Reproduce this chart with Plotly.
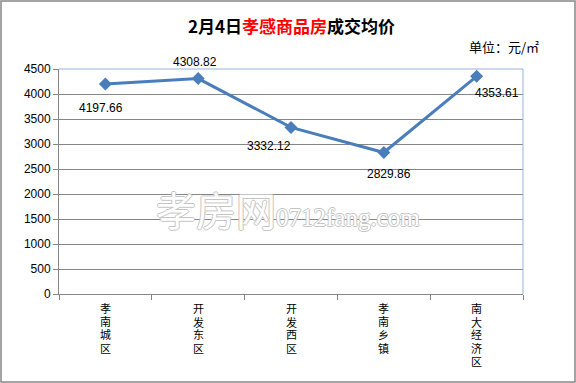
import plotly.graph_objects as go

categories = ["孝南城区", "开发东区", "开发西区", "孝南乡镇", "南大经济区"]
prices = [4197.66, 4308.82, 3332.12, 2829.86, 4353.61]
# label offsets (px) relative to each point
label_dx = [-4, -3, -22, 5, 20]
label_dy = [-24, 17, -19, -21, -17]
y_ticks = [0, 500, 1000, 1500, 2000, 2500, 3000, 3500, 4000, 4500]

W, H = 576, 383
L, R, T, B = 59, 53, 69, 89
pw, ph = W - L - R, H - T - B

fig = go.Figure()
fig.add_trace(go.Scatter(
    x=categories, y=prices, mode="lines+markers",
    line=dict(color="#4a7ebb", width=3),
    marker=dict(symbol="diamond", size=10, color="#4a7ebb"),
    cliponaxis=False, showlegend=False, hoverinfo="skip",
))

annotations = []
for c, v, dx, dy in zip(categories, prices, label_dx, label_dy):
    annotations.append(dict(x=c, y=v, xref="x", yref="y", showarrow=False,
                            text=f"{v:.2f}", xshift=dx, yshift=dy,
                            font=dict(family="Liberation Sans, Arial", size=12, color="#000000")))
# vertical category labels, one character per line
for c in categories:
    for i, ch in enumerate(c):
        annotations.append(dict(x=c, y=0, xref="x", yref="paper", showarrow=False,
                                text=ch, yanchor="middle", yshift=-(15 + i * 13.2),
                                borderpad=0,
                                font=dict(family="Liberation Sans, Noto Sans CJK SC", size=11,
                                          color="#000000")))

annotations += [
    dict(x=0.5, y=1 + (T - 25) / ph, xref="paper", yref="paper", showarrow=False,
         xanchor="center", yanchor="middle",
         text="<b>2月4日<span style='color:#ff0000'>孝感商品房</span>成交均价</b>",
         font=dict(family="Noto Sans CJK SC", size=17, color="#000000")),
    dict(x=(541 - L) / pw, y=1 + (T - 46) / ph, xref="paper", yref="paper", showarrow=False,
         xanchor="right", yanchor="middle", text="单位：元/㎡",
         font=dict(family="Noto Sans CJK SC", size=13, color="#000000")),
    dict(x=(288 - L) / pw, y=(294 - 209) / ph, xref="paper", yref="paper", showarrow=False,
         xanchor="center", yanchor="middle",
         text="<span style='font-size:40px'>孝房网</span><span style='font-family:Liberation Serif'>0712fang.com</span>",
         font=dict(family="Noto Sans CJK SC", size=25, color="#ffffff",
                   shadow="1px 0 0 #c4c4c4, -1px 0 0 #c4c4c4, 0 1px 0 #c4c4c4, 0 -1px 0 #c4c4c4")),
]

fig.update_layout(
    width=W, height=H, margin=dict(l=L, r=R, t=T, b=B, autoexpand=False),
    paper_bgcolor="white", plot_bgcolor="white",
    xaxis=dict(type="category", showgrid=False, showline=True, linecolor="#868686", linewidth=1,
               ticks="outside", tickson="boundaries", ticklen=5, tickcolor="#868686",
               showticklabels=False, range=[-0.5, 4.5], automargin=False),
    yaxis=dict(range=[0, 4500], tickvals=y_ticks, showgrid=True, gridcolor="#868686", gridwidth=1,
               showline=True, linecolor="#868686", linewidth=1, ticks="outside", ticklen=5,
               tickcolor="#868686", zeroline=False, automargin=False,
               tickfont=dict(family="Liberation Sans, Arial", size=12, color="#000000")),
    annotations=annotations,
    shapes=[
        dict(type="line", xref="paper", yref="paper", x0=0, x1=1, y0=1, y1=1,
             line=dict(color="#95b3d7", width=1)),
        dict(type="line", xref="paper", yref="paper", x0=1, x1=1, y0=0, y1=1,
             line=dict(color="#95b3d7", width=1)),
        dict(type="rect", xref="paper", yref="paper",
             x0=-(L - 1) / pw, x1=1 + (R - 1) / pw, y0=-(B - 1) / ph, y1=1 + (T - 1) / ph,
             line=dict(color="#868686", width=1.5), layer="below"),
    ],
)

fig.write_html("out.html")
